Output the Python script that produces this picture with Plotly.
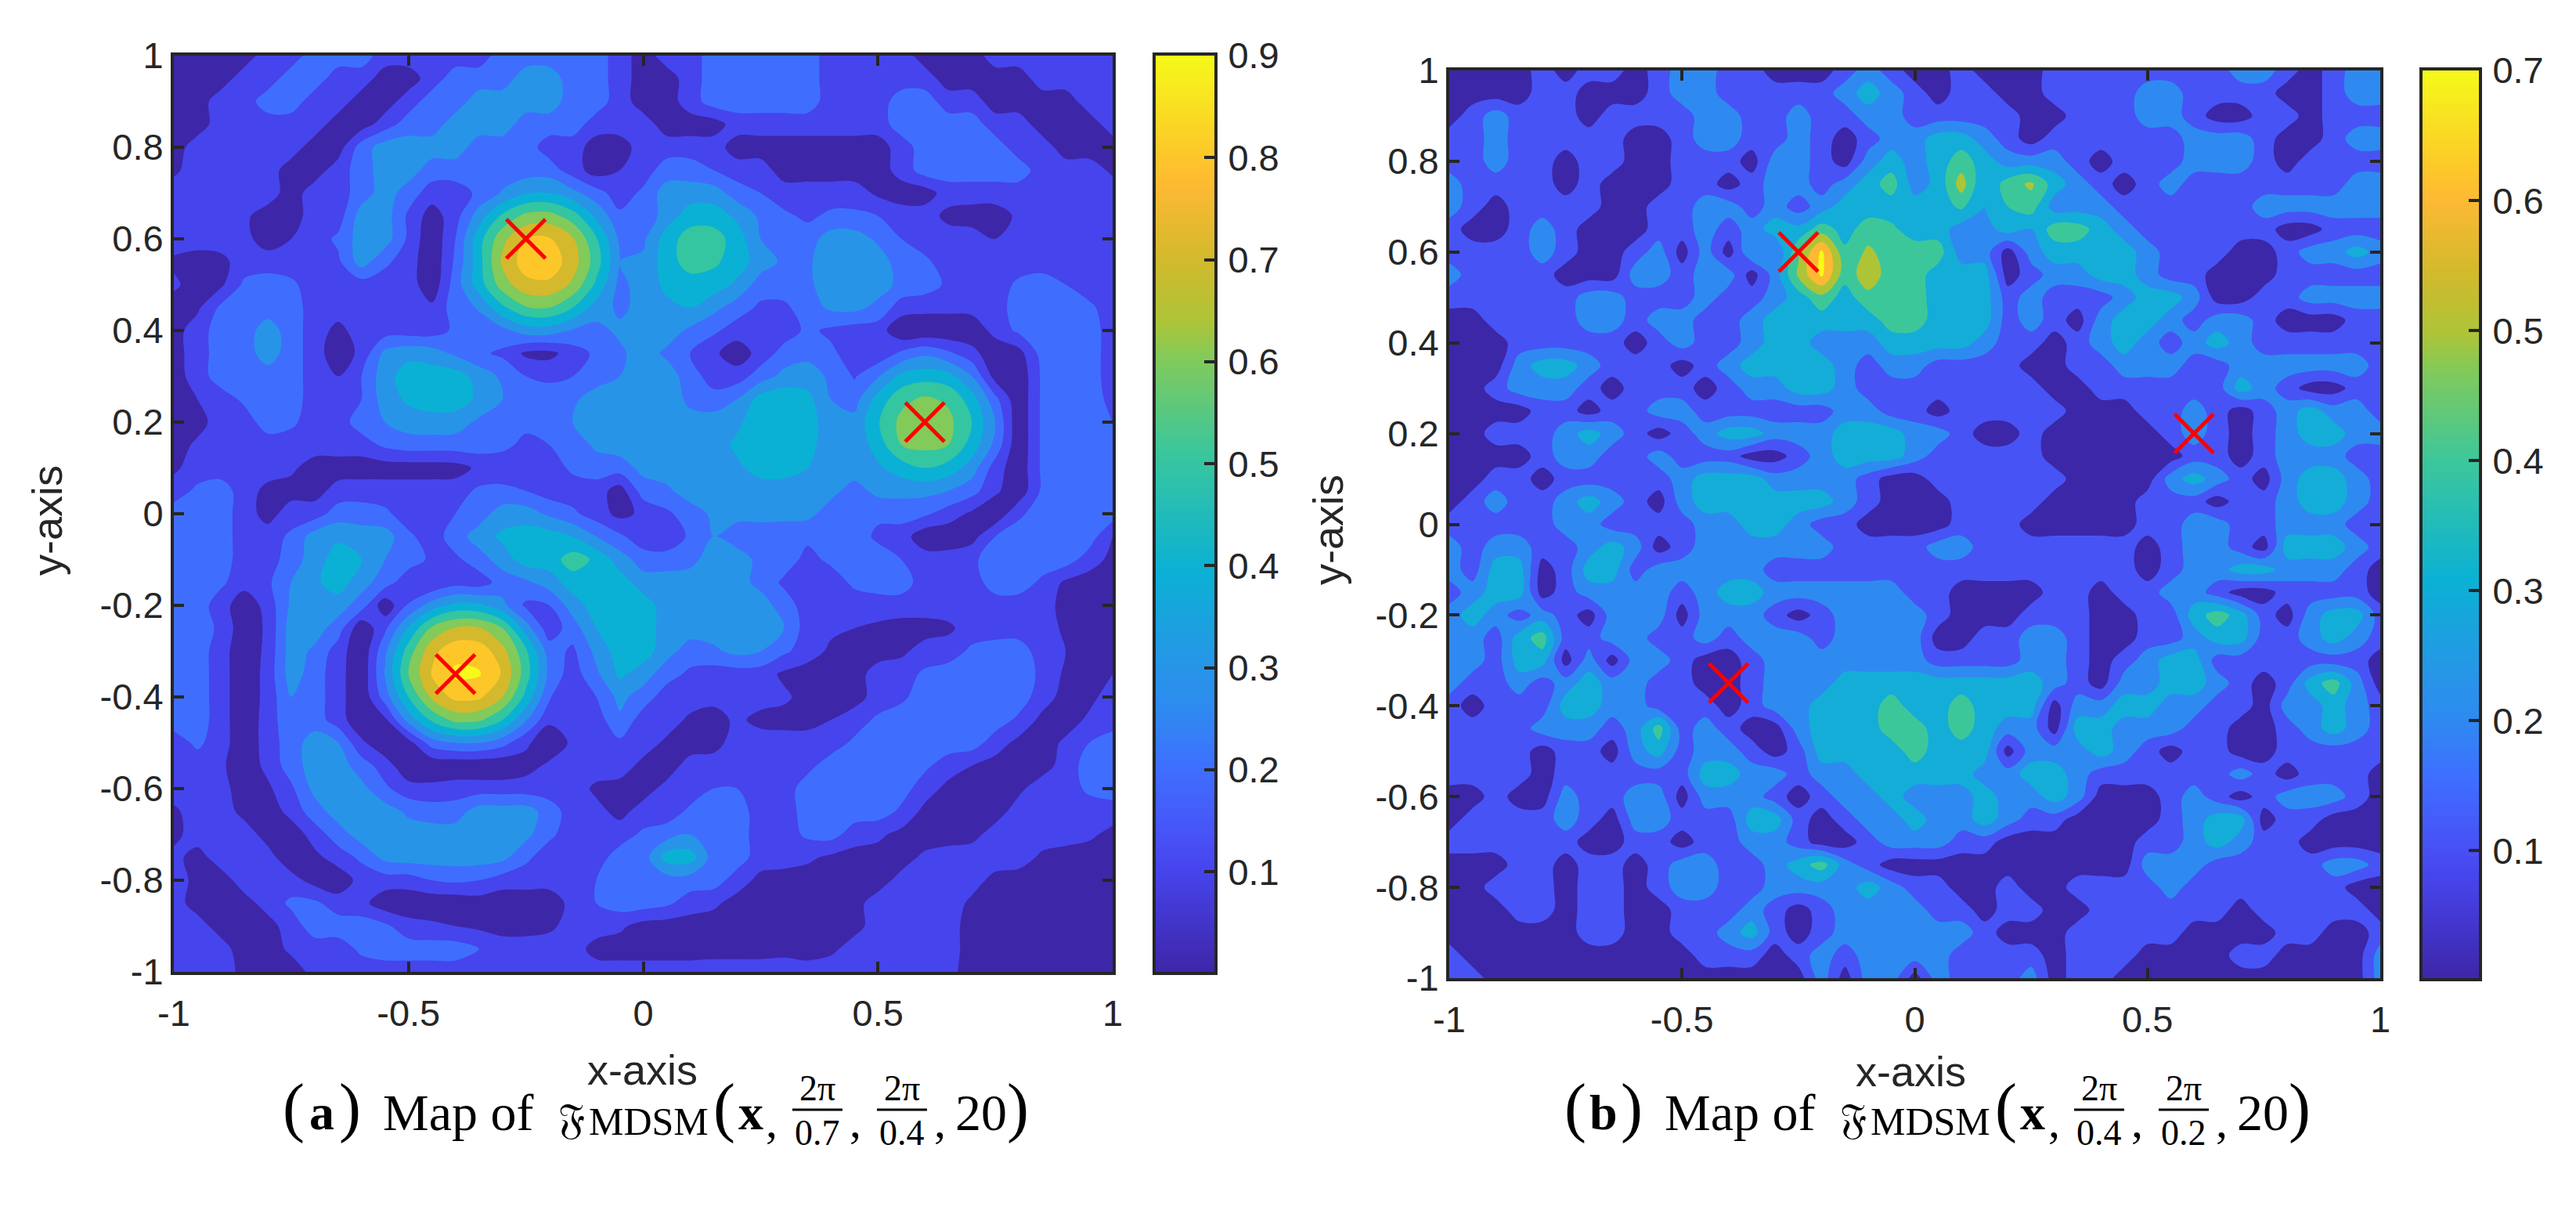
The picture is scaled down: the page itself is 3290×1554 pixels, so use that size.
import numpy as np
import plotly.graph_objects as go

W, H = 3290, 1554

# grid of the two maps, rows run from y=1 (top) to y=-1 (bottom), values in hundredths
GRID_X = [round(-1 + 0.05 * i, 2) for i in range(41)]
GRID_Y = GRID_X[::-1]

Z_A = [
[5,5,5,5,15,15,25,25,25,15,15,15,15,15,25,25,25,25,25,15,5,15,15,25,25,25,25,25,15,15,15,15,5,5,5,15,15,15,15,15,15],
[5,5,5,15,15,25,25,15,15,5,5,15,25,25,25,35,35,25,25,15,5,5,15,25,25,25,25,25,15,15,15,15,15,5,5,5,5,15,15,15,15],
[5,5,15,15,25,25,15,15,5,5,15,25,25,35,35,35,35,25,25,15,5,5,15,25,25,25,25,25,15,15,15,25,25,15,15,5,5,5,5,15,15],
[5,5,15,15,15,15,15,5,5,15,25,25,35,35,35,25,25,25,15,15,15,5,5,5,15,15,15,15,15,15,15,25,25,25,25,15,15,5,5,5,15],
[5,15,15,15,15,15,5,5,25,35,35,35,35,25,25,25,15,15,5,5,15,15,15,15,5,5,5,5,5,5,5,15,25,25,25,25,15,15,5,5,5],
[8,15,15,15,15,5,5,15,25,35,35,25,25,25,25,25,25,15,5,10,15,25,25,20,15,15,5,5,5,5,5,14,25,25,25,25,25,15,15,15,8],
[15,15,15,15,15,5,15,15,25,35,25,15,15,22,31,39,40,33,24,15,22,35,35,35,25,20,15,15,15,15,8,5,5,15,15,15,15,15,15,15,15],
[15,15,15,12,5,5,15,15,35,35,18,5,16,35,52,63,64,55,38,22,22,35,45,45,38,28,22,18,22,22,20,15,15,7,5,5,12,15,15,15,15],
[15,15,15,13,5,10,15,22,35,35,18,2,20,46,67,80,81,71,51,28,28,45,55,55,45,30,22,25,35,35,28,20,15,15,15,10,12,15,15,15,15],
[8,5,7,15,15,15,15,18,35,22,15,2,22,46,72,85,86,75,55,30,32,45,55,52,45,35,28,28,37,37,35,25,22,15,15,15,15,15,15,15,15],
[12,5,8,22,25,22,15,15,15,15,15,3,25,45,65,77,78,68,48,27,35,42,45,45,38,25,25,28,35,35,35,27,25,18,15,15,22,25,20,15,15],
[5,8,22,25,25,25,15,15,15,15,15,12,25,31,48,59,60,50,35,28,33,38,40,33,25,18,18,25,32,33,27,15,13,13,14,15,25,25,25,22,15],
[6,15,25,25,35,25,15,7,15,15,15,15,22,25,27,35,35,29,27,32,37,35,28,22,15,15,15,22,18,15,15,2,2,2,2,14,22,25,25,25,15],
[6,15,25,25,35,25,15,3,13,33,37,35,28,22,18,8,7,15,22,28,35,28,20,12,4,14,24,27,22,15,13,22,28,22,14,2,6,24,25,25,15],
[5,15,25,25,25,25,15,10,20,36,45,45,45,36,28,20,18,20,25,30,36,35,25,15,15,25,33,35,28,19,29,43,46,44,30,6,2,22,25,25,15],
[5,10,15,22,25,25,15,15,20,35,42,45,45,38,30,22,25,28,35,35,35,35,28,24,30,44,47,43,30,26,44,57,62,58,45,23,2,22,25,25,17],
[5,6,15,15,25,22,15,15,25,30,35,36,35,28,25,22,25,30,35,35,35,35,33,35,38,46,47,44,35,33,49,63,68,63,50,30,2,22,25,25,20],
[5,12,15,15,15,15,15,15,15,22,25,25,25,25,22,18,20,24,32,35,35,35,35,35,42,46,47,43,35,32,45,60,63,60,46,27,2,22,25,25,23],
[8,15,15,15,15,12,5,5,5,5,5,5,6,12,15,15,15,22,25,25,33,35,35,35,38,44,44,40,35,35,38,45,50,46,35,15,3,22,25,25,22],
[15,22,25,15,7,6,6,14,15,15,15,15,15,22,22,20,15,15,15,5,25,28,35,35,35,35,35,35,33,26,33,33,33,30,24,12,3,22,25,25,24],
[25,25,25,15,6,15,15,25,25,22,15,15,20,25,35,35,28,22,15,7,12,18,25,32,33,33,33,33,25,25,22,24,22,15,8,2,18,25,25,25,25],
[25,25,25,15,15,22,35,38,35,35,22,15,25,35,42,45,45,40,30,22,14,12,22,30,25,25,24,22,22,25,18,15,3,3,6,20,25,25,25,25,10],
[25,25,25,15,15,25,35,45,40,30,25,18,18,25,35,45,45,55,48,35,25,25,27,35,35,27,25,17,22,25,25,20,15,15,18,25,25,25,25,15,7],
[25,25,22,14,18,30,38,45,34,25,13,10,16,15,24,28,35,45,48,45,35,35,35,35,34,27,18,14,15,22,25,25,15,15,15,25,25,18,8,5,5],
[25,25,15,3,14,32,40,35,25,3,21,35,43,42,33,18,20,35,45,48,45,35,35,35,35,35,25,15,15,15,15,15,15,15,15,15,15,15,6,5,5],
[25,25,18,3,12,35,35,25,2,18,41,62,71,71,60,35,14,25,40,48,46,35,35,35,35,35,30,15,12,10,8,6,6,8,15,15,15,15,8,5,5],
[25,25,15,2,13,35,28,15,2,28,55,77,87,86,74,52,25,18,33,45,45,34,25,28,33,30,22,15,8,5,6,8,14,15,22,25,25,15,10,5,5],
[25,25,15,2,14,35,25,14,2,31,60,81,92,91,79,55,27,15,28,42,35,24,18,15,15,15,8,5,5,6,14,15,22,25,25,25,25,18,8,6,10],
[25,25,15,2,14,30,25,14,2,25,50,72,83,82,70,47,21,12,20,33,25,15,15,13,15,14,12,6,5,6,14,18,25,25,25,25,25,15,6,7,15],
[25,25,15,2,15,27,25,15,2,8,34,52,63,62,50,31,12,12,15,28,15,15,8,6,12,7,6,6,10,15,22,25,25,25,25,25,18,7,5,12,15],
[15,22,15,2,15,25,35,30,12,2,6,25,30,30,24,12,3,12,14,18,15,8,5,6,15,15,15,15,15,22,25,25,25,25,25,15,7,5,12,20,25],
[15,15,12,3,13,25,35,35,25,15,2,2,2,2,2,6,12,12,15,15,7,5,14,15,15,15,15,17,25,25,25,25,22,15,10,6,5,6,14,25,25],
[15,15,15,3,8,18,33,35,33,22,14,13,15,15,15,15,15,15,8,6,6,13,15,20,20,15,15,25,25,25,25,24,15,7,5,5,8,15,15,22,25],
[8,15,15,7,3,14,25,35,35,35,28,25,25,35,35,35,25,15,13,7,14,15,22,25,25,15,14,25,25,25,25,18,7,5,5,6,14,15,15,15,15],
[7,15,15,15,6,3,15,25,35,35,35,35,35,35,35,33,22,15,15,15,22,25,30,25,25,15,15,22,24,15,12,7,5,5,7,14,15,15,15,12,7],
[13,6,15,15,14,3,7,15,22,33,35,35,35,35,33,22,15,15,15,25,25,45,45,25,25,15,15,12,8,6,6,6,12,15,15,15,15,8,5,5,5],
[15,7,5,15,15,14,6,3,14,15,15,20,22,20,15,15,15,15,20,25,25,25,25,25,15,7,5,5,5,5,6,13,15,15,14,7,5,5,5,5,5],
[14,6,5,6,14,22,22,15,13,4,3,3,3,5,3,3,3,14,20,25,25,22,15,12,6,5,5,5,5,7,14,15,15,15,8,5,5,5,5,5,5],
[15,14,6,5,6,15,25,25,25,22,14,12,10,8,6,6,8,14,15,12,6,5,5,5,5,5,5,5,5,7,14,15,18,14,6,5,5,5,5,5,5],
[15,15,14,5,5,12,15,15,22,25,25,25,25,20,15,15,15,15,6,5,5,5,5,6,6,6,7,5,8,14,15,15,15,14,6,5,5,5,5,5,5],
[15,15,15,7,5,5,13,15,15,15,15,15,15,15,15,15,15,15,15,15,15,15,15,15,15,15,15,15,15,15,15,15,15,12,7,5,5,5,5,5,5],
]

Z_B = [
[5,5,5,5,15,5,15,15,5,15,25,25,15,15,5,5,5,15,25,15,5,5,15,5,5,5,15,15,15,15,15,15,15,15,25,25,15,5,15,25,25],
[5,5,5,5,15,15,5,5,5,15,25,25,15,15,15,15,15,25,35,25,15,5,15,15,5,5,15,15,15,15,25,25,15,15,15,15,5,5,15,25,25],
[5,15,25,15,15,15,5,15,15,15,15,25,25,15,15,25,15,15,25,25,15,15,15,15,15,5,5,15,15,15,25,25,15,5,5,15,15,5,15,15,15],
[15,15,25,15,15,15,15,15,5,5,15,25,25,15,15,25,15,5,15,25,25,35,35,25,15,5,15,15,15,15,15,15,25,25,25,15,5,5,15,25,25],
[15,15,25,15,15,5,15,15,5,5,15,15,15,5,25,25,15,5,25,35,25,35,45,35,25,25,25,15,5,15,15,15,25,25,25,15,5,15,15,15,15],
[25,15,15,15,15,5,15,5,5,5,15,15,5,15,25,25,15,25,35,45,25,33,55,30,45,52,35,25,15,5,15,25,15,15,15,15,15,15,15,25,25],
[25,15,5,15,15,15,15,5,5,15,15,25,25,15,25,15,25,35,35,35,35,35,42,30,40,45,25,25,25,15,15,15,15,15,15,25,25,25,25,25,25],
[15,5,5,15,25,15,5,5,5,15,15,25,15,25,35,33,45,36,45,42,35,35,25,25,35,30,45,45,35,25,15,15,15,15,15,15,5,5,15,15,15],
[15,15,15,15,25,15,5,5,15,25,5,25,5,30,20,48,72,42,52,45,45,45,25,25,5,25,35,35,35,35,25,15,15,15,5,5,15,25,25,35,25],
[25,15,15,15,15,5,5,5,25,25,15,25,25,5,25,52,72,44,56,45,45,35,35,35,5,15,25,25,35,35,25,15,15,5,5,5,15,15,15,15,15],
[15,15,15,15,15,15,25,25,15,15,15,25,15,15,25,35,47,35,47,45,45,35,35,35,15,25,15,15,15,25,35,35,25,5,5,15,15,25,25,25,25],
[5,5,15,15,15,15,25,25,15,25,25,15,15,25,35,35,35,35,35,45,45,35,35,35,15,25,15,5,25,35,35,25,15,25,25,15,5,5,5,15,15],
[5,5,5,15,15,15,15,15,5,15,25,15,15,25,35,35,25,25,25,35,35,35,35,25,15,15,5,15,25,35,25,15,25,35,25,15,15,15,15,15,15],
[5,5,5,25,35,35,25,15,15,15,5,15,25,35,35,35,35,25,15,25,25,15,15,15,15,5,5,15,15,25,25,25,15,15,25,25,25,25,25,25,15],
[5,5,15,25,25,25,15,5,15,15,15,5,15,25,25,35,35,25,15,15,15,15,15,15,15,15,5,5,15,15,15,15,15,15,35,25,15,5,5,15,15],
[5,5,5,5,15,15,5,15,15,25,25,15,15,15,15,15,15,25,25,15,15,5,15,15,15,15,15,5,5,5,15,15,25,15,5,15,25,35,25,25,15],
[5,5,15,15,15,25,35,25,15,5,15,25,35,35,25,25,25,35,35,35,25,25,15,5,5,15,5,5,5,5,5,15,25,15,5,15,25,35,35,25,25],
[5,5,5,5,15,25,25,15,15,25,15,15,15,5,5,15,25,35,35,35,25,15,15,15,15,15,5,5,5,5,5,5,15,15,5,15,25,25,25,15,15],
[5,5,15,15,5,15,15,15,15,15,25,35,35,35,25,25,25,25,15,5,5,15,15,15,15,15,15,5,5,5,5,25,35,25,15,5,25,35,35,25,15],
[5,15,25,15,15,25,35,25,15,5,25,35,35,35,35,35,35,25,15,5,5,5,15,15,15,15,5,5,5,5,15,15,15,5,15,15,25,35,35,25,15],
[15,15,15,15,15,25,25,15,15,15,15,25,25,35,35,25,15,15,5,5,5,5,15,15,15,5,5,5,5,5,15,15,25,25,15,15,25,25,25,15,15],
[25,15,25,25,15,15,25,35,25,5,15,25,25,25,25,25,25,15,15,15,15,25,25,15,15,15,15,15,15,15,5,15,25,25,15,5,35,35,35,25,15],
[25,15,35,35,5,15,35,35,15,25,25,25,25,25,15,15,15,15,15,15,15,15,15,15,15,15,15,15,15,15,5,15,25,25,35,35,25,25,25,15,5],
[15,25,35,35,5,15,25,25,25,25,15,25,35,35,25,25,25,25,25,25,15,15,5,5,5,5,15,15,5,15,15,25,25,15,5,5,15,15,15,15,5],
[25,35,25,15,25,15,5,25,25,25,5,25,25,25,15,5,15,25,25,25,25,15,5,5,5,15,15,15,5,5,15,15,35,45,35,15,5,25,35,35,15],
[25,25,15,35,45,15,15,25,25,15,15,25,15,25,25,25,15,25,25,25,25,5,5,15,15,25,25,15,5,5,15,15,25,35,35,15,15,25,35,25,15],
[25,25,15,35,35,5,25,5,25,25,15,5,5,15,25,25,25,25,25,25,25,15,15,15,15,25,25,15,5,15,25,35,35,15,15,15,15,15,15,15,5],
[25,15,15,25,15,25,35,25,25,15,15,5,5,15,25,25,25,35,35,35,35,35,35,35,35,35,25,15,5,25,25,35,35,25,15,5,15,35,45,25,5],
[15,5,15,15,15,35,35,25,25,15,15,15,5,15,25,25,35,35,35,45,35,35,45,35,35,35,5,25,25,35,35,25,25,15,15,5,25,25,35,25,15],
[15,15,15,15,25,25,25,15,25,45,15,25,15,5,5,25,35,35,35,45,45,35,45,35,25,25,5,35,35,25,25,25,15,15,5,5,15,25,35,25,15],
[15,15,15,15,5,15,15,5,25,35,15,25,25,15,5,15,35,35,35,35,45,35,35,35,5,25,25,25,35,25,15,5,15,15,5,5,15,15,15,15,15],
[15,15,15,15,5,15,15,15,15,15,15,35,35,25,25,15,25,25,35,35,35,35,35,25,25,35,35,25,15,15,15,15,15,15,25,15,5,15,15,15,5],
[5,5,15,5,5,25,15,15,25,25,5,25,25,25,15,5,15,25,25,35,25,25,25,35,25,25,35,25,5,5,5,15,25,15,5,15,25,25,25,15,5],
[5,15,15,15,15,25,15,5,25,25,15,15,15,35,35,15,5,15,25,25,35,25,25,35,25,15,15,5,5,5,5,15,25,35,35,5,15,15,5,5,5],
[15,15,15,15,15,15,5,5,15,15,5,15,15,25,25,15,5,5,15,25,25,25,15,15,5,5,5,5,5,5,15,15,25,35,25,15,15,5,5,5,5],
[5,5,5,15,15,5,15,15,5,15,25,25,15,15,25,35,45,25,15,5,5,5,5,5,5,5,5,5,5,5,25,25,25,15,15,15,15,15,25,25,15],
[5,5,15,15,15,5,15,15,5,15,25,25,15,15,25,25,25,25,35,25,15,15,5,5,15,5,5,15,15,15,15,25,15,15,15,15,15,15,15,5,5],
[5,5,5,15,15,5,15,15,5,5,15,15,15,25,15,5,15,25,25,25,25,15,15,5,15,15,5,5,15,15,15,15,15,15,5,15,15,15,15,15,5],
[5,5,5,5,5,5,15,15,5,5,15,15,25,35,15,5,15,25,25,25,25,25,25,15,5,5,5,15,15,15,15,15,5,5,5,5,15,15,5,5,15],
[15,5,5,5,5,5,5,5,5,5,5,15,15,15,5,15,25,15,25,25,25,25,15,15,15,15,5,15,15,15,5,5,5,5,15,15,5,5,5,5,25],
[15,15,5,5,5,5,5,5,5,5,5,5,5,5,5,5,25,5,25,25,5,25,15,15,15,25,5,15,15,5,5,5,5,5,5,5,5,5,5,5,25],
]

# true source positions (red crosses), same in both panels
CROSS_X = [-0.25, 0.6, -0.4]
CROSS_Y = [0.6, 0.2, -0.35]

XTICKS = [-1, -0.5, 0, 0.5, 1]
XLABELS = ['-1', '-0.5', '0', '0.5', '1']
YTICKS = [-1, -0.8, -0.6, -0.4, -0.2, 0, 0.2, 0.4, 0.6, 0.8, 1]
YLABELS = ['-1', '-0.8', '-0.6', '-0.4', '-0.2', '0', '0.2', '0.4', '0.6', '0.8', '1']

CBAR_A_TICKS = [0.1, 0.2, 0.3, 0.4, 0.5, 0.6, 0.7, 0.8, 0.9]
CBAR_B_TICKS = [0.1, 0.2, 0.3, 0.4, 0.5, 0.6, 0.7]

# contourf band colours, lowest band first
BANDS_A = ['#3E26A8', '#4644EC', '#3F6EFF', '#2894E8', '#0BB1D4', '#33C6A0', '#82CA5A', '#D4B92C', '#FDC72A', '#F6F91A']
BANDS_B = ['#3B27A8', '#4853F5', '#2E8AF0', '#14ADD8', '#3CC79B', '#AEC437', '#FDB933', '#F8FB14']

PARULA = [[0, '#3E26A8'], [0.11, '#4644EC'], [0.143, '#4850F5'], [0.22, '#3F6EFF'], [0.286, '#2E8AF0'],
          [0.33, '#2894E8'], [0.44, '#0BB1D4'], [0.57, '#3CC79B'], [0.67, '#82CA5A'], [0.71, '#AEC437'],
          [0.78, '#D4B92C'], [0.857, '#FDB933'], [0.89, '#FDC72A'], [1, '#F6F91A']]

INK = '#262626'
FONT = 'Liberation Sans'
SERIF = 'Liberation Serif'


def fx(px):
    return px / W


def fy(px):
    return 1 - px / H


def band_scale(colors):
    return [[k / (len(colors) - 1), c] for k, c in enumerate(colors)]


fig = go.Figure()

panels = [
    dict(z=Z_A, bands=BANDS_A, ax='', cax='3', box=(222, 1421, 71, 1241), cbar=(1476, 1551), cticks=CBAR_A_TICKS, cmax=0.9),
    dict(z=Z_B, bands=BANDS_B, ax='2', cax='4', box=(1851, 3040, 90, 1249), cbar=(3094, 3166), cticks=CBAR_B_TICKS, cmax=0.7),
]

for p in panels:
    left, right, top, bottom = p['box']
    nlev = len(p['bands']) - 1
    fig.add_trace(go.Contour(
        x=GRID_X, y=GRID_Y[::-1], z=np.array(p['z'])[::-1],
        colorscale=band_scale(p['bands']), showscale=False, hoverinfo='skip',
        contours=dict(start=10, end=10 * nlev, size=10, coloring='fill', showlines=False),
        line=dict(width=0, smoothing=1.0),
        xaxis='x' + p['ax'], yaxis='y' + p['ax']))
    fig.add_trace(go.Scatter(
        x=CROSS_X, y=CROSS_Y, mode='markers', hoverinfo='skip', showlegend=False,
        marker=dict(symbol='x-thin', size=50, color='#FF0000', line=dict(width=5, color='#FF0000')),
        xaxis='x' + p['ax'], yaxis='y' + p['ax']))
    # colorbar drawn as a one-column heatmap on its own axes, a real colorbar pushes the margins
    levels = np.linspace(0.002, p['cmax'], 256)
    fig.add_trace(go.Heatmap(
        x=[0, 1], y=levels, z=[[v] for v in levels], colorscale=PARULA, zmin=0.002, zmax=p['cmax'],
        showscale=False, hoverinfo='skip', xaxis='x' + p['cax'], yaxis='y' + p['cax']))
    axis = dict(range=[-1, 1], showgrid=False, zeroline=False, showline=True, linewidth=4, linecolor=INK,
                mirror='ticks', ticks='inside', ticklen=13, tickwidth=4, tickcolor=INK,
                tickfont=dict(family=FONT, size=47, color=INK))
    fig.update_layout({
        'xaxis' + p['ax']: dict(axis, domain=[fx(left), fx(right)], tickvals=XTICKS, ticktext=XLABELS,
                                anchor='y' + p['ax'], ticklabelstandoff=9),
        'yaxis' + p['ax']: dict(axis, domain=[fy(bottom), fy(top)], tickvals=YTICKS, ticktext=YLABELS,
                                anchor='x' + p['ax']),
        'xaxis' + p['cax']: dict(domain=[fx(p['cbar'][0]), fx(p['cbar'][1])], range=[0, 1], anchor='y' + p['cax'],
                                 showticklabels=False, ticks='', showgrid=False, zeroline=False,
                                 showline=True, linewidth=4, linecolor=INK, mirror=True),
        'yaxis' + p['cax']: dict(domain=[fy(bottom), fy(top)], range=[0.002, p['cmax']], anchor='x' + p['cax'],
                                 side='right', tickvals=p['cticks'], ticktext=[str(t) for t in p['cticks']],
                                 ticks='inside', ticklen=13, tickwidth=4, tickcolor=INK, ticklabelstandoff=4,
                                 tickfont=dict(family=FONT, size=47, color=INK), showgrid=False, zeroline=False,
                                 showline=True, linewidth=4, linecolor=INK, mirror=True),
    })

# axis titles and captions, pieced together because there is no MathJax offline
annotations = []
shapes = []


def put(text, x, y, size, font=SERIF, color='#000000', angle=0):
    annotations.append(dict(text=text, x=fx(x), y=fy(y), xref='paper', yref='paper', showarrow=False,
                            xanchor='center', yanchor='middle', textangle=angle,
                            font=dict(family=font, size=size, color=color)))


put('x-axis', 820, 1366, 54, FONT, INK)
put('y-axis', 60, 665, 54, FONT, INK, -90)
put('x-axis', 2440, 1368, 54, FONT, INK)
put('y-axis', 1696, 677, 54, FONT, INK, -90)


def caption(dx, letter, den1, den2):
    put('(', 375 + dx, 1414, 84)
    put('<b>%s</b>' % letter, 411 + dx, 1420, 64)
    put(')', 447 + dx, 1414, 84)
    put('Map of', 585 + dx, 1420, 66)
    put('\U0001D509', 730 + dx, 1428, 54, 'DejaVu Sans')
    put('MDSM', 828 + dx, 1432, 50)
    put('(', 925 + dx, 1414, 84)
    put('<b>x</b>', 959 + dx, 1420, 64)
    put(',', 986 + dx, 1432, 60)
    for cx, den in ((1044, den1), (1152, den2)):
        put('2\u03c0', cx + dx, 1389, 46)
        put(den, cx + dx, 1446, 46)
        shapes.append(dict(type='line', xref='paper', yref='paper', x0=fx(cx - 32 + dx), x1=fx(cx + 32 + dx),
                           y0=fy(1417), y1=fy(1417), line=dict(color='#000000', width=3)))
    put(',', 1092 + dx, 1432, 60)
    put(',', 1200 + dx, 1432, 60)
    put('20', 1253 + dx, 1420, 66)
    put(')', 1300 + dx, 1414, 84)


caption(0, 'a', '0.7', '0.4')
caption(1637, 'b', '0.4', '0.2')

fig.update_layout(width=W, height=H, margin=dict(l=0, r=0, t=0, b=0, autoexpand=False), showlegend=False,
                  paper_bgcolor='#FFFFFF', plot_bgcolor='#FFFFFF',
                  annotations=annotations, shapes=shapes)

fig.write_html("out.html", config={'displayModeBar': False}, post_script="document.body.style.margin='0';")
